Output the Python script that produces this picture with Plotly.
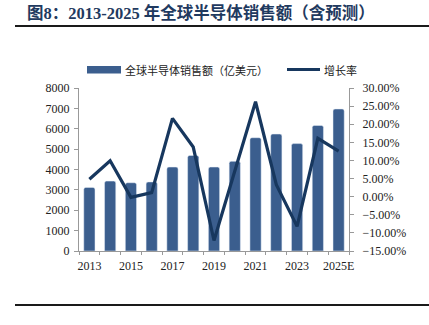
import plotly.graph_objects as go

years = ["2013", "2014", "2015", "2016", "2017", "2018", "2019", "2020",
         "2021", "2022", "2023", "2024", "2025E"]
sales = [3120, 3430, 3350, 3390, 4120, 4690, 4120, 4400, 5560, 5740, 5270, 6160, 6970]
growth = [0.048, 0.099, -0.002, 0.011, 0.216, 0.137, -0.121, 0.068,
          0.262, 0.033, -0.082, 0.161, 0.126]
tick_text = [y if i % 2 == 0 else "" for i, y in enumerate(years)]

bar_color = "#3B5E8E"
line_color = "#17375E"
serif = "Liberation Serif, Times New Roman, serif"

fig = go.Figure()
fig.add_trace(go.Bar(x=years, y=sales, marker=dict(color=bar_color, cornerradius=2),
                     width=0.54, name="全球半导体销售额（亿美元）", yaxis="y"))
fig.add_trace(go.Scatter(x=years, y=growth, mode="lines", line=dict(color=line_color, width=3.2),
                         name="增长率", yaxis="y2"))

W, H = 429, 325
L, R, T, B = 79, 349, 88, 251
def px(x):
    return (x - L) / (R - L)
def py(y):
    return (B - y) / (B - T)

shapes = [
    dict(type="line", xref="paper", yref="paper", x0=px(15), x1=px(429), y0=py(26), y1=py(26),
         line=dict(color="#1a1a1a", width=2.2)),
    dict(type="line", xref="paper", yref="paper", x0=px(15), x1=px(429), y0=py(305), y1=py(305),
         line=dict(color="#1a1a1a", width=2.2)),
    dict(type="rect", xref="paper", yref="paper", x0=px(87), x1=px(121), y0=py(73.5), y1=py(66),
         fillcolor=bar_color, line=dict(width=0)),
    dict(type="line", xref="paper", yref="paper", x0=px(287), x1=px(320), y0=py(69.5), y1=py(69.5),
         line=dict(color=line_color, width=3.2)),
]
annotations = [
    dict(text="<b>图8：2013-2025 年全球半导体销售额（含预测）</b>", xref="paper", yref="paper",
         x=px(25), y=py(13), xanchor="left", yanchor="middle", showarrow=False,
         font=dict(family="Liberation Serif, Noto Sans CJK SC", size=16.5, color="#1F3A60")),
    dict(text="全球半导体销售额（亿美元）", xref="paper", yref="paper",
         x=px(123), y=py(69.5), xanchor="left", yanchor="middle", showarrow=False,
         font=dict(family="Noto Sans CJK SC", size=11, color="#222")),
    dict(text="增长率", xref="paper", yref="paper",
         x=px(322), y=py(69.5), xanchor="left", yanchor="middle", showarrow=False,
         font=dict(family="Noto Sans CJK SC", size=11, color="#222")),
]

axis_font = dict(family=serif, size=12, color="#222")
fig.update_layout(
    width=W, height=H, autosize=False,
    margin=dict(l=L, r=W - R, t=T, b=H - B, pad=0),
    plot_bgcolor="white", paper_bgcolor="white",
    showlegend=False, bargap=0.46,
    shapes=shapes, annotations=annotations,
    xaxis=dict(type="category", tickvals=years, ticktext=tick_text, tickson="boundaries",
               tickangle=0, ticks="outside", ticklen=3, tickcolor="#999", showline=True,
               linecolor="#999", linewidth=1, tickfont=axis_font, showgrid=False,
               ticklabelstandoff=4),
    yaxis=dict(range=[0, 8000], dtick=1000, ticks="outside", ticklen=4, tickcolor="#999",
               showline=True, linecolor="#999", linewidth=1, showgrid=False, zeroline=False,
               tickfont=axis_font, ticklabelstandoff=2),
    yaxis2=dict(range=[-0.15, 0.30], dtick=0.05, tickformat=".2%", overlaying="y", side="right",
                ticks="outside", ticklen=4, tickcolor="#999", showline=True, linecolor="#999",
                linewidth=1, showgrid=False, zeroline=False, tickfont=axis_font,
                ticklabelstandoff=6),
)

fig.write_html("out.html")
